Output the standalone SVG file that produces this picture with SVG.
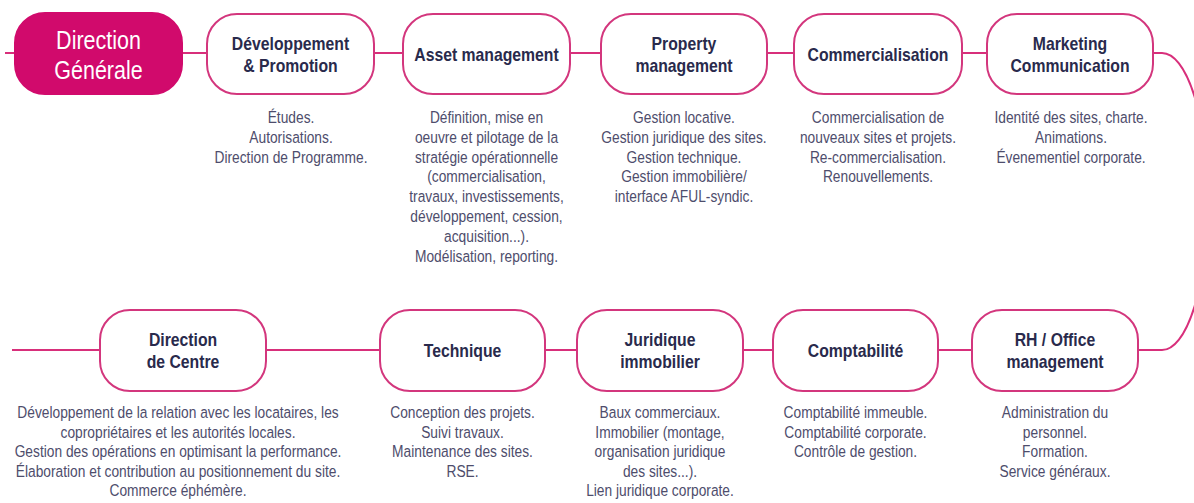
<svg xmlns="http://www.w3.org/2000/svg" width="1194" height="503" viewBox="0 0 1194 503">
  <style>
    .box { fill: #ffffff; stroke: #d3367d; stroke-width: 2; }
    .box-main { fill: #d10a6c; stroke: #d10a6c; stroke-width: 2; }
    .link { fill: none; stroke: #d82f7b; stroke-width: 2; }
    .title { font-family: "Liberation Sans", Arial, sans-serif; font-weight: bold; font-size: 19px; fill: #292a4c; text-anchor: middle; }
    .title-main { font-family: "Liberation Sans", Arial, sans-serif; font-size: 25px; fill: #ffffff; text-anchor: middle; }
    .desc { font-family: "Liberation Sans", Arial, sans-serif; font-size: 16.5px; fill: #4e4d6c; text-anchor: middle; }
  </style>

  <!-- connectors -->
  <g id="connectors">
    <path class="link" d="M5,53 H15"/>
    <path class="link" d="M182,53 H207"/>
    <path class="link" d="M374,53 H403"/>
    <path class="link" d="M570,53 H601"/>
    <path class="link" d="M767,53 H794"/>
    <path class="link" d="M962,53 H987"/>
    <path class="link" d="M1153,53 H1162 A46,148.5 0 0 1 1162,350 H1138"/>
    <path class="link" d="M972,350 H938"/>
    <path class="link" d="M773,350 H743"/>
    <path class="link" d="M577,350 H545"/>
    <path class="link" d="M380,350 H266"/>
    <path class="link" d="M100,350 H12"/>
  </g>

  <!-- top row -->
  <g id="direction-generale">
    <rect class="box-main" x="15" y="13" width="167" height="81" rx="30"/>
    <text class="title-main" transform="matrix(0.86 0 0 1 98.5 0)"><tspan x="0" y="49">Direction</tspan><tspan x="0" y="79">Générale</tspan></text>
  </g>

  <g id="developpement">
    <rect class="box" x="207" y="14" width="167" height="80" rx="30"/>
    <text class="title" transform="matrix(0.83 0 0 1 290.5 0)"><tspan x="0" y="50">Développement</tspan><tspan x="0" y="72">&amp; Promotion</tspan></text>
    <text class="desc" transform="matrix(0.835 0 0 1 291 0)"><tspan x="0" y="123">Études.</tspan><tspan x="0" y="142.8">Autorisations.</tspan><tspan x="0" y="162.6">Direction de Programme.</tspan></text>
  </g>

  <g id="asset-management">
    <rect class="box" x="403" y="14" width="167" height="80" rx="30"/>
    <text class="title" transform="matrix(0.83 0 0 1 486.5 0)"><tspan x="0" y="61">Asset management</tspan></text>
    <text class="desc" transform="matrix(0.835 0 0 1 486.5 0)"><tspan x="0" y="123">Définition, mise en</tspan><tspan x="0" y="142.8">oeuvre et pilotage de la</tspan><tspan x="0" y="162.6">stratégie opérationnelle</tspan><tspan x="0" y="182.4">(commercialisation,</tspan><tspan x="0" y="202.2">travaux, investissements,</tspan><tspan x="0" y="222">développement, cession,</tspan><tspan x="0" y="241.8">acquisition...).</tspan><tspan x="0" y="261.6">Modélisation, reporting.</tspan></text>
  </g>

  <g id="property-management">
    <rect class="box" x="601" y="14" width="166" height="80" rx="30"/>
    <text class="title" transform="matrix(0.83 0 0 1 684 0)"><tspan x="0" y="50">Property</tspan><tspan x="0" y="72">management</tspan></text>
    <text class="desc" transform="matrix(0.835 0 0 1 684 0)"><tspan x="0" y="123">Gestion locative.</tspan><tspan x="0" y="142.8">Gestion juridique des sites.</tspan><tspan x="0" y="162.6">Gestion technique.</tspan><tspan x="0" y="182.4">Gestion immobilière/</tspan><tspan x="0" y="202.2">interface AFUL-syndic.</tspan></text>
  </g>

  <g id="commercialisation">
    <rect class="box" x="794" y="14" width="168" height="80" rx="30"/>
    <text class="title" transform="matrix(0.83 0 0 1 878 0)"><tspan x="0" y="61">Commercialisation</tspan></text>
    <text class="desc" transform="matrix(0.835 0 0 1 878 0)"><tspan x="0" y="123">Commercialisation de</tspan><tspan x="0" y="142.8">nouveaux sites et projets.</tspan><tspan x="0" y="162.6">Re-commercialisation.</tspan><tspan x="0" y="182.4">Renouvellements.</tspan></text>
  </g>

  <g id="marketing-communication">
    <rect class="box" x="987" y="14" width="166" height="80" rx="30"/>
    <text class="title" transform="matrix(0.83 0 0 1 1070 0)"><tspan x="0" y="50">Marketing</tspan><tspan x="0" y="72">Communication</tspan></text>
    <text class="desc" transform="matrix(0.835 0 0 1 1071 0)"><tspan x="0" y="123">Identité des sites, charte.</tspan><tspan x="0" y="142.8">Animations.</tspan><tspan x="0" y="162.6">Évenementiel corporate.</tspan></text>
  </g>

  <!-- bottom row -->
  <g id="direction-de-centre">
    <rect class="box" x="100" y="310" width="166" height="81" rx="30"/>
    <text class="title" transform="matrix(0.83 0 0 1 183 0)"><tspan x="0" y="346">Direction</tspan><tspan x="0" y="368">de Centre</tspan></text>
    <text class="desc" transform="matrix(0.835 0 0 1 178 0)"><tspan x="0" y="418">Développement de la relation avec les locataires, les</tspan><tspan x="0" y="437.6">copropriétaires et les autorités locales.</tspan><tspan x="0" y="457.2">Gestion des opérations en optimisant la performance.</tspan><tspan x="0" y="476.8">Élaboration et contribution au positionnement du site.</tspan><tspan x="0" y="496.4">Commerce éphémère.</tspan></text>
  </g>

  <g id="technique">
    <rect class="box" x="380" y="310" width="165" height="81" rx="30"/>
    <text class="title" transform="matrix(0.83 0 0 1 462.5 0)"><tspan x="0" y="357">Technique</tspan></text>
    <text class="desc" transform="matrix(0.835 0 0 1 462.5 0)"><tspan x="0" y="418">Conception des projets.</tspan><tspan x="0" y="437.6">Suivi travaux.</tspan><tspan x="0" y="457.2">Maintenance des sites.</tspan><tspan x="0" y="476.8">RSE.</tspan></text>
  </g>

  <g id="juridique-immobilier">
    <rect class="box" x="577" y="310" width="166" height="81" rx="30"/>
    <text class="title" transform="matrix(0.83 0 0 1 660 0)"><tspan x="0" y="346">Juridique</tspan><tspan x="0" y="368">immobilier</tspan></text>
    <text class="desc" transform="matrix(0.835 0 0 1 660 0)"><tspan x="0" y="418">Baux commerciaux.</tspan><tspan x="0" y="437.6">Immobilier (montage,</tspan><tspan x="0" y="457.2">organisation juridique</tspan><tspan x="0" y="476.8">des sites...).</tspan><tspan x="0" y="496.4">Lien juridique corporate.</tspan></text>
  </g>

  <g id="comptabilite">
    <rect class="box" x="773" y="310" width="165" height="81" rx="30"/>
    <text class="title" transform="matrix(0.83 0 0 1 855.5 0)"><tspan x="0" y="357">Comptabilité</tspan></text>
    <text class="desc" transform="matrix(0.835 0 0 1 855.5 0)"><tspan x="0" y="418">Comptabilité immeuble.</tspan><tspan x="0" y="437.6">Comptabilité corporate.</tspan><tspan x="0" y="457.2">Contrôle de gestion.</tspan></text>
  </g>

  <g id="rh-office-management">
    <rect class="box" x="972" y="310" width="166" height="81" rx="30"/>
    <text class="title" transform="matrix(0.83 0 0 1 1055 0)"><tspan x="0" y="346">RH / Office</tspan><tspan x="0" y="368">management</tspan></text>
    <text class="desc" transform="matrix(0.835 0 0 1 1055 0)"><tspan x="0" y="418">Administration du</tspan><tspan x="0" y="437.6">personnel.</tspan><tspan x="0" y="457.2">Formation.</tspan><tspan x="0" y="476.8">Service généraux.</tspan></text>
  </g>
</svg>
